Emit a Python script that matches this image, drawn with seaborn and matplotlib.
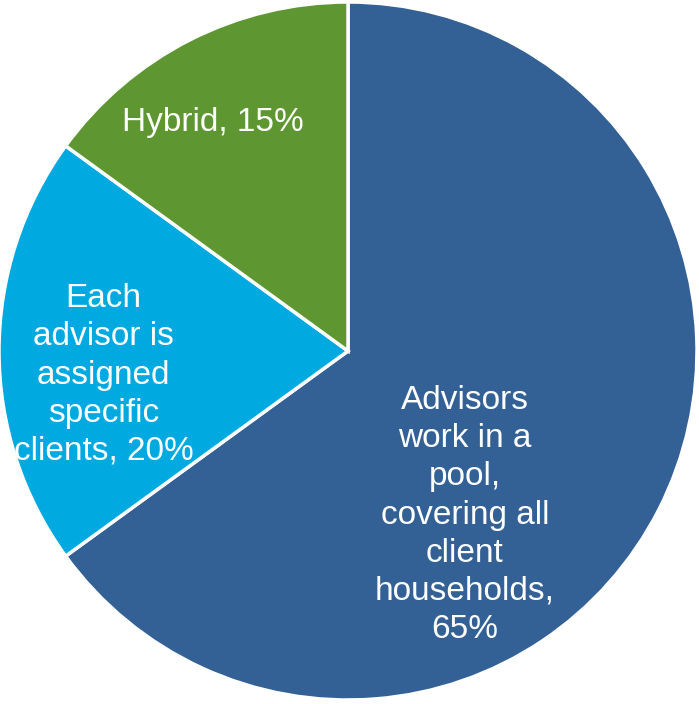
import matplotlib
matplotlib.use("Agg")
import matplotlib.pyplot as plt
import seaborn as sns

sns.set_theme(style="white")
plt.rcParams["font.family"] = ["Liberation Sans", "DejaVu Sans"]

# Advisor coverage models
categories = [
    "Advisors\nwork in a\npool,\ncovering all\nclient\nhouseholds,\n65%",
    "Each\nadvisor is\nassigned\nspecific\nclients, 20%",
    "Hybrid, 15%",
]
shares = [65, 20, 15]
colors = ["#336196", "#00A9E0", "#5E9732"]
label_pos = [(0.335, -0.47), (-0.70, -0.069), (-0.387, 0.656)]

fig = plt.figure(figsize=(6.99, 7.04), dpi=100)
ax = fig.add_axes([0, 0, 1, 1])

wedges, _ = ax.pie(
    shares,
    colors=colors,
    startangle=90,
    counterclock=False,
    radius=1.0,
    wedgeprops=dict(edgecolor="white", linewidth=2.5),
)

for text, (x, y) in zip(categories, label_pos):
    ax.text(x, y, text, ha="center", va="center", color="white",
            fontsize=24, linespacing=1.3, multialignment="center")

r = 349.0
ax.set_xlim(-348 / r, (699 - 348) / r)
ax.set_ylim(-353 / r, 351 / r)
ax.set_aspect("auto")
ax.axis("off")

fig.savefig("out.png", dpi=100, facecolor="white")
